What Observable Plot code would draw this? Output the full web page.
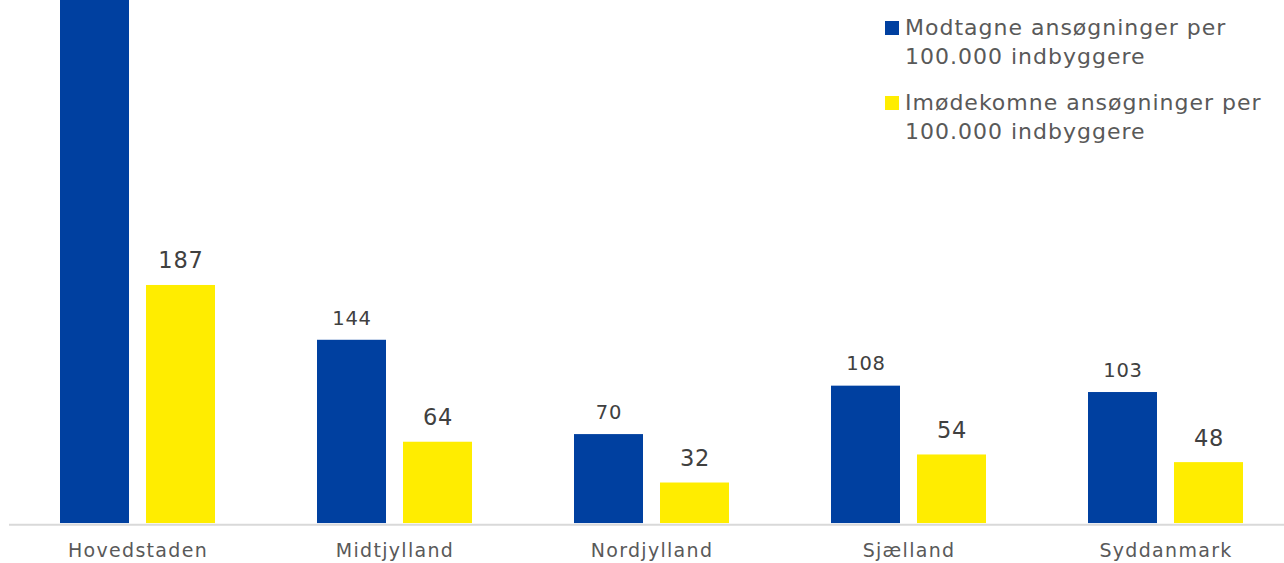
<!DOCTYPE html>
<html>
<head>
<meta charset="utf-8">
<script src="https://cdn.jsdelivr.net/npm/d3@7"></script>
<script src="https://cdn.jsdelivr.net/npm/@observablehq/plot@0.6"></script>
<style>
  html, body { margin: 0; padding: 0; background: #fff; }
  #wrap { position: relative; width: 1284px; height: 563px; overflow: hidden; font-family: "DejaVu Sans", Verdana, sans-serif; }
  #legend { position: absolute; left: 885px; top: 13px; color: #595959; font-size: 22px; line-height: 29px; letter-spacing: 1px; }
  .item { display: flex; align-items: flex-start; margin-bottom: 17px; }
  .sw { width: 14px; height: 14px; margin-top: 8px; margin-right: 6px; flex: none; }
  .lbl { white-space: nowrap; }
  #chart g[aria-label="x-axis tick label"] text { letter-spacing: 1.3px; }
  #chart g[aria-label="text"] text { letter-spacing: 0.8px; }
</style>
</head>
<body>
<div id="wrap"><div id="chart"></div><div id="legend"></div></div>
<script>
const regions = ["Hovedstaden", "Midtjylland", "Nordjylland", "Sjælland", "Syddanmark"];
const received = [430, 144, 70, 108, 103];   // Hovedstaden value is off-chart (estimate)
const granted = [187, 64, 32, 54, 48];
const seriesNames = ["Modtagne ansøgninger per\n100.000 indbyggere", "Imødekomne ansøgninger per\n100.000 indbyggere"];
const colors = ["#0040A0", "#FFED00"];
const yMax = 410.6;

const recData = regions.map((r, i) => ({region: r, value: received[i]}));
const grData = regions.map((r, i) => ({region: r, value: granted[i]}));

const chart = Plot.plot({
  width: 1284,
  height: 563,
  marginTop: 0,
  marginBottom: 39.7,
  marginLeft: 9,
  marginRight: 0,
  style: {fontFamily: "'DejaVu Sans', Verdana, sans-serif", background: "white", overflow: "hidden"},
  x: {type: "band", domain: regions, range: [9, 1294], padding: 0, label: null},
  y: {domain: [0, yMax], axis: null},
  marks: [
    Plot.barY(recData, {x: "region", y: "value", fill: colors[0], insetLeft: 51, insetRight: 137, clip: true}),
    Plot.barY(grData, {x: "region", y: "value", fill: colors[1], insetLeft: 137, insetRight: 51, clip: true}),
    Plot.ruleY([0], {stroke: "#d9d9d9", strokeWidth: 2, dy: 1}),
    Plot.text(recData, {filter: d => d.value < yMax - 20, x: "region", y: "value", text: d => String(d.value), dx: -43, dy: -15.7, lineAnchor: "bottom", fontSize: 19.5, fill: "#404040"}),
    Plot.text(grData, {filter: d => d.value < yMax - 20, x: "region", y: "value", text: d => String(d.value), dx: 43, dy: -17, lineAnchor: "bottom", fontSize: 22.5, fill: "#404040"}),
    Plot.axisX({tickSize: 0, tickPadding: 20, fontSize: 19, color: "#595959", label: null})
  ]
});
document.getElementById("chart").appendChild(chart);

const legend = document.getElementById("legend");
seriesNames.forEach((name, i) => {
  const item = document.createElement("div");
  item.className = "item";
  const sw = document.createElement("div");
  sw.className = "sw";
  sw.style.background = colors[i];
  const lbl = document.createElement("div");
  lbl.className = "lbl";
  lbl.innerHTML = name.split("\n").join("<br>");
  item.appendChild(sw);
  item.appendChild(lbl);
  legend.appendChild(item);
});
</script>
</body>
</html>
